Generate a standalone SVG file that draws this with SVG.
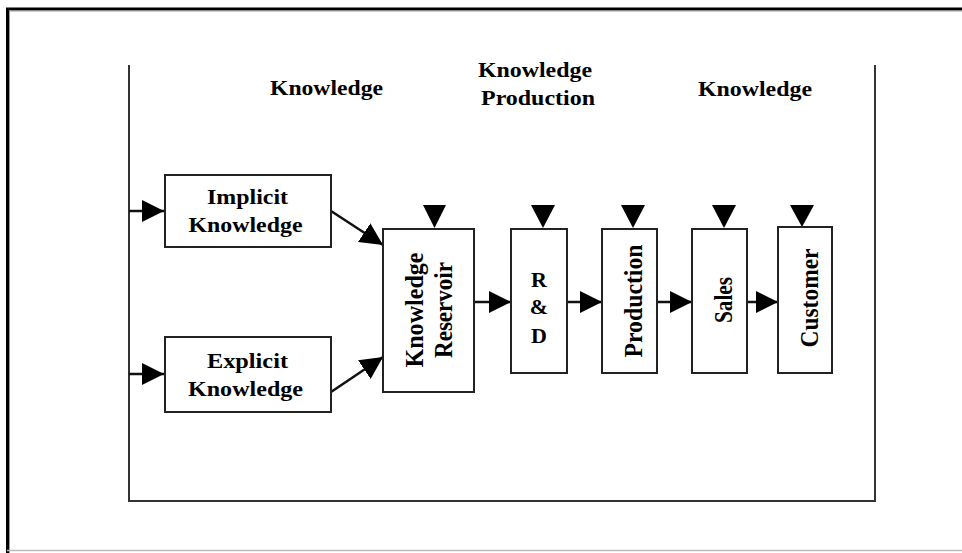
<svg xmlns="http://www.w3.org/2000/svg" width="962" height="553" viewBox="0 0 962 553">
<defs>
<style>
.frame{fill:none;stroke:#333;stroke-width:2}
.box{fill:#fff;stroke:#222;stroke-width:2}
.con{stroke:#111;stroke-width:2.5;fill:none}
.tri{fill:#000}
.hd{font-family:"Liberation Serif","Times New Roman",serif;font-weight:bold;font-size:20px;fill:#000}
.bt{font-family:"Liberation Serif","Times New Roman",serif;font-weight:bold;font-size:22px;fill:#000}
.vt{font-family:"Liberation Serif","Times New Roman",serif;font-weight:bold;font-size:26px;fill:#000}
</style>
<marker id="ah" viewBox="0 0 10 10" refX="10" refY="5" markerWidth="9" markerHeight="9" markerUnits="strokeWidth" orient="auto">
<path d="M0,0 L10,5 L0,10 Z" fill="#000"/>
</marker>
</defs>
<rect x="0" y="0" width="962" height="553" fill="#fff"/>
<!-- outer frame -->
<g id="outer-frame">
<line x1="6" y1="9" x2="962" y2="9" stroke="#000" stroke-width="3"/>
<line x1="7.5" y1="8" x2="7.5" y2="553" stroke="#000" stroke-width="3"/>
<line x1="9.5" y1="11" x2="962" y2="11" stroke="#999" stroke-width="1"/>
<line x1="9.5" y1="11" x2="9.5" y2="553" stroke="#999" stroke-width="1"/>
<line x1="7" y1="550.5" x2="962" y2="550.5" stroke="#bbb" stroke-width="1.5"/>
</g>
<g id="inner-frame">
<polyline class="frame" points="129,65 129,501 875,501 875,65"/>
</g>
<g id="headers">
<text class="hd" x="326.5" y="95" text-anchor="middle" textLength="113" lengthAdjust="spacingAndGlyphs">Knowledge</text>
<text class="hd" x="535" y="77" text-anchor="middle" textLength="114" lengthAdjust="spacingAndGlyphs">Knowledge</text>
<text class="hd" x="538" y="105" text-anchor="middle" textLength="114" lengthAdjust="spacingAndGlyphs">Production</text>
<text class="hd" x="755" y="96" text-anchor="middle" textLength="114" lengthAdjust="spacingAndGlyphs">Knowledge</text>
</g>
<g id="connectors">
<line class="con" x1="129" y1="211" x2="164" y2="211" marker-end="url(#ah)"/>
<line class="con" x1="129" y1="374" x2="164" y2="374" marker-end="url(#ah)"/>
<line class="con" x1="331" y1="211" x2="383" y2="245" marker-end="url(#ah)"/>
<line class="con" x1="331" y1="392" x2="383" y2="357" marker-end="url(#ah)"/>
<line class="con" x1="474" y1="302" x2="511" y2="302" marker-end="url(#ah)"/>
<line class="con" x1="567" y1="302" x2="602" y2="302" marker-end="url(#ah)"/>
<line class="con" x1="657" y1="302" x2="692" y2="302" marker-end="url(#ah)"/>
<line class="con" x1="747" y1="302" x2="778" y2="302" marker-end="url(#ah)"/>
<polygon class="tri" points="423,205 446,205 434.5,228"/>
<polygon class="tri" points="531,205 555,205 543,228"/>
<polygon class="tri" points="621,205 645,205 633,228"/>
<polygon class="tri" points="712,205 736,205 724,228"/>
<polygon class="tri" points="790,205 814,205 802,227"/>
</g>
<g id="implicit-knowledge">
<rect class="box" x="165" y="175" width="166" height="72"/>
<text class="bt" x="247.5" y="204" text-anchor="middle" textLength="81" lengthAdjust="spacingAndGlyphs">Implicit</text>
<text class="bt" x="245.5" y="232" text-anchor="middle" textLength="114" lengthAdjust="spacingAndGlyphs">Knowledge</text>
</g>
<g id="explicit-knowledge">
<rect class="box" x="165" y="337" width="166" height="75"/>
<text class="bt" x="247.5" y="368" text-anchor="middle" textLength="81" lengthAdjust="spacingAndGlyphs">Explicit</text>
<text class="bt" x="245.5" y="396" text-anchor="middle" textLength="115" lengthAdjust="spacingAndGlyphs">Knowledge</text>
</g>
<g id="knowledge-reservoir">
<rect class="box" x="383" y="229" width="91" height="163"/>
<text class="vt" transform="translate(423,310) rotate(-90)" x="0" y="0" text-anchor="middle" textLength="115" lengthAdjust="spacingAndGlyphs">Knowledge</text>
<text class="vt" transform="translate(452,310) rotate(-90)" x="0" y="0" text-anchor="middle" textLength="96" lengthAdjust="spacingAndGlyphs">Reservoir</text>
</g>
<g id="rd">
<rect class="box" x="511" y="229" width="56" height="144"/>
<text class="bt" x="539" y="287" text-anchor="middle" font-size="24">R</text>
<text class="bt" x="539" y="314" text-anchor="middle" font-size="24">&amp;</text>
<text class="bt" x="539" y="343" text-anchor="middle" font-size="24">D</text>
</g>
<g id="production">
<rect class="box" x="602" y="229" width="55" height="144"/>
<text class="vt" transform="translate(642,301) rotate(-90)" x="0" y="0" text-anchor="middle" textLength="113" lengthAdjust="spacingAndGlyphs">Production</text>
</g>
<g id="sales">
<rect class="box" x="692" y="229" width="55" height="144"/>
<text class="vt" transform="translate(732,300) rotate(-90)" x="0" y="0" text-anchor="middle" textLength="46" lengthAdjust="spacingAndGlyphs">Sales</text>
</g>
<g id="customer">
<rect class="box" x="778" y="227" width="54" height="146"/>
<text class="vt" transform="translate(818,298) rotate(-90)" x="0" y="0" text-anchor="middle" textLength="99" lengthAdjust="spacingAndGlyphs">Customer</text>
</g>
</svg>
